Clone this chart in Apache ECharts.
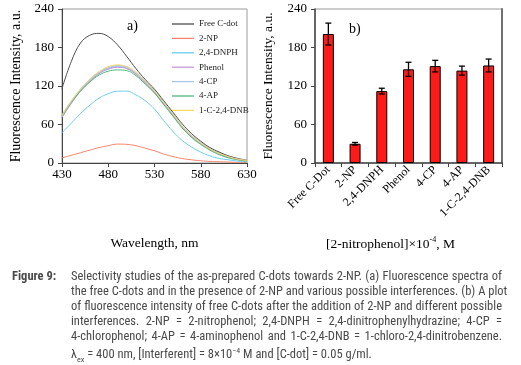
<!DOCTYPE html>
<html>
<head>
<meta charset="utf-8">
<script src="https://cdn.jsdelivr.net/npm/echarts@6/dist/echarts.min.js"></script>
<style>
  html, body { margin: 0; padding: 0; background: #fff; }
  #wrap { position: relative; width: 521px; height: 365px; overflow: hidden; }
  #chart { position: absolute; left: 0; top: 0; width: 521px; height: 365px; }
  #caption {
    position: absolute; left: 0; top: 268px; width: 521px;
    font-family: "Liberation Sans Narrow", "Roboto Condensed", "DejaVu Sans Condensed", sans-serif;
    font-size: 12.5px; line-height: 15px; color: #4a4a4a;
  }
  #caption .lab { position: absolute; left: 12px; top: 0; font-weight: bold; }
  #caption .body { position: absolute; left: 71px; width: 431px; top: 0; }
  #caption .ln { text-align: justify; text-align-last: justify; white-space: nowrap; }
  #caption .last { text-align: left; text-align-last: left; }
</style>
</head>
<body>
<div id="wrap">
  <div id="chart"></div>
  <div id="caption">
    <div class="lab">Figure 9:</div>
    <div class="body">
      <div class="ln">Selectivity studies of the as-prepared C-dots towards 2-NP. (a) Fluorescence spectra of</div>
      <div class="ln">the free C-dots and in the presence of 2-NP and various possible interferences. (b) A plot</div>
      <div class="ln">of fluorescence intensity of free C-dots after the addition of 2-NP and different possible</div>
      <div class="ln">interferences. 2-NP = 2-nitrophenol; 2,4-DNPH = 2,4-dinitrophenylhydrazine; 4-CP =</div>
      <div class="ln">4-chlorophenol; 4-AP = 4-aminophenol and 1-C-2,4-DNB = 1-chloro-2,4-dinitrobenzene.</div>
      <div class="ln last">&lambda;<sub style="font-size:8px">ex</sub> = 400 nm, [Interferent] = 8&times;10<sup style="font-size:8px">&minus;4</sup> M and [C-dot] = 0.05 g/ml.</div>
    </div>
  </div>
</div>
<script>
// (a) spectra, 430..630 nm every 10 nm
var wavelengths = [430, 440, 450, 460, 470, 480, 490, 500, 510, 520, 530, 540, 550, 560, 570, 580, 590, 600, 610, 620, 630];
var freeCdot = [116, 158, 187, 199, 202, 197, 184, 166, 147, 130, 115, 97, 79, 61, 46, 34, 24, 17, 11, 7, 4];
var np2 = [8, 12, 16, 20, 24, 27, 29.5, 29, 27, 23, 19, 14, 10, 7, 5, 3.5, 2.5, 2, 1.5, 1, 1];
var dnph = [47, 62, 77, 90, 101, 108, 112, 112, 106, 97, 84, 66, 49, 35, 25, 17, 11, 7, 5, 3, 2];
var phenol = [71, 93, 112, 127, 139, 146, 149, 147, 138, 125, 110, 92, 74, 55, 41, 30, 21, 14, 9, 6, 4];
var cp4 = [73, 95, 114, 129, 141, 148, 151, 149, 140, 126, 111, 93, 75, 56, 42, 31, 22, 15, 10, 6, 4];
var ap4 = [73, 94, 112, 126, 137, 143, 145, 144, 136, 123, 109, 91, 73, 55, 40, 29, 20, 13, 8, 5, 3];
var cdnb = [74, 96, 115, 130, 142, 150, 153, 150, 141, 127, 112, 94, 76, 57, 43, 31, 22, 15, 10, 6, 4];

// (b) intensity per sample, with error
var samples = ['Free C-Dot', '2-NP', '2,4-DNPH', 'Phenol', '4-CP', '4-AP', '1-C-2,4-DNB'];
var intensity = [201, 30, 112, 146, 151, 144, 152];
var errors = [17, 2, 4.5, 11, 9, 7, 10];

var yTicks = [0, 60, 120, 180, 240];

function pairs(ys) {
    return wavelengths.map(function (x, i) { return [x, ys[i]]; });
}

var lineDefs = [
    { name: 'Free C-dot', data: freeCdot, color: '#4d4d4d', width: 1 },
    { name: '2-NP', data: np2, color: '#f4846c', width: 1 },
    { name: '2,4-DNPH', data: dnph, color: '#6ccdf2', width: 1 },
    { name: 'Phenol', data: phenol, color: '#c49ad8', width: 1 },
    { name: '4-CP', data: cp4, color: '#aec4e6', width: 2.2 },
    { name: '4-AP', data: ap4, color: '#4dbb78', width: 1 },
    { name: '1-C-2,4-DNB', data: cdnb, color: '#ffd86a', width: 1 }
];

var serif = '"Liberation Serif", "DejaVu Serif", serif';

var lineSeries = lineDefs.map(function (d) {
    return {
        name: d.name,
        type: 'line',
        xAxisIndex: 0,
        yAxisIndex: 0,
        symbol: 'none',
        smooth: 0.4,
        data: pairs(d.data),
        lineStyle: { color: d.color, width: d.width },
        itemStyle: { color: d.color },
        z: d.name === '4-CP' ? 1 : 2
    };
});

var errData = intensity.map(function (v, i) { return [i, v + errors[i], v - errors[i]]; });

var chart = echarts.init(document.getElementById('chart'));
var option = {
    animation: false,
    textStyle: { fontFamily: serif },
    grid: [
        { left: 62, top: 9, width: 185, height: 154, show: true, borderColor: '#9a9a9a', borderWidth: 1 },
        { left: 315, top: 9, width: 187, height: 154, show: true, borderColor: '#9a9a9a', borderWidth: 1 }
    ],
    legend: {
        data: lineDefs.map(function (d) { return d.name; }),
        orient: 'vertical',
        left: 167,
        top: 14,
        icon: 'rect',
        itemWidth: 22,
        itemHeight: 1.3,
        itemGap: 4.4,
        textStyle: { fontFamily: serif, fontSize: 9, lineHeight: 10, color: '#222' }
    },
    xAxis: [
        {
            gridIndex: 0, type: 'value', min: 430, max: 630, interval: 50,
            name: 'Wavelength, nm', nameLocation: 'middle', nameGap: 73,
            nameTextStyle: { fontFamily: serif, fontSize: 13.5, color: '#000' },
            axisLine: { lineStyle: { color: '#444' } },
            axisTick: { show: true, length: 4, lineStyle: { color: '#444' } },
            axisLabel: { fontFamily: serif, fontSize: 13, color: '#000', margin: 5 },
            splitLine: { show: false }
        },
        {
            gridIndex: 1, type: 'category', data: samples,
            name: '[2-nitrophenol]\u00d710{sup|-4}, M', nameLocation: 'middle', nameGap: 73,
            nameTextStyle: {
                fontFamily: serif, fontSize: 13.5, color: '#000', padding: [0, 36, 0, 0],
                rich: { sup: { fontFamily: serif, fontSize: 8, verticalAlign: 'top', padding: [0, 0, 8, 0] } }
            },
            axisLine: { lineStyle: { color: '#444', width: 1.5 } },
            axisTick: { show: true, length: 4, lineStyle: { color: '#444' } },
            axisLabel: { fontFamily: serif, fontSize: 12, color: '#000', rotate: 45, margin: 5, interval: 0 }
        }
    ],
    yAxis: [
        {
            gridIndex: 0, type: 'value', min: yTicks[0], max: yTicks[yTicks.length - 1], interval: 60,
            name: 'Fluorescence Intensity, a.u.', nameLocation: 'middle', nameGap: 39,
            nameTextStyle: { fontFamily: serif, fontSize: 14, color: '#000' },
            axisLine: { show: true, lineStyle: { color: '#444' } },
            axisTick: { show: true, length: 4, lineStyle: { color: '#444' } },
            axisLabel: { fontFamily: serif, fontSize: 13, color: '#000', margin: 8 },
            splitLine: { show: false }
        },
        {
            gridIndex: 1, type: 'value', min: yTicks[0], max: yTicks[yTicks.length - 1], interval: 60,
            name: 'Fluorescence Intensity, a.u.', nameLocation: 'middle', nameGap: 40,
            nameTextStyle: { fontFamily: serif, fontSize: 13.5, color: '#000' },
            axisLine: { show: true, lineStyle: { color: '#444', width: 1.5 } },
            axisTick: { show: true, length: 4, lineStyle: { color: '#444' } },
            axisLabel: { fontFamily: serif, fontSize: 13, color: '#000', margin: 8 },
            splitLine: { show: false }
        },
        {
            gridIndex: 1, type: 'value', position: 'right', min: 0, max: 240, interval: 60,
            axisLine: { show: true, lineStyle: { color: '#707070', width: 2 } },
            axisTick: { show: false },
            axisLabel: { show: false },
            splitLine: { show: false }
        }
    ],
    graphic: [
        { type: 'text', left: 127, top: 19, style: { text: 'a)', font: '14px ' + serif, fill: '#000' } },
        { type: 'text', left: 349, top: 22, style: { text: 'b)', font: '14px ' + serif, fill: '#000' } }
    ],
    series: lineSeries.concat([
        {
            name: 'Intensity',
            type: 'bar',
            xAxisIndex: 1,
            yAxisIndex: 1,
            barWidth: 11,
            data: intensity,
            itemStyle: { color: '#ff1a1a', borderColor: '#000', borderWidth: 1 }
        },
        {
            name: 'Error',
            type: 'custom',
            xAxisIndex: 1,
            yAxisIndex: 1,
            data: errData,
            encode: { x: 0, y: [1, 2] },
            z: 5,
            renderItem: function (params, api) {
                var i = api.value(0);
                var hi = api.coord([i, api.value(1)]);
                var lo = api.coord([i, api.value(2)]);
                var cap = 3;
                var st = { stroke: '#000', lineWidth: 1.3 };
                return {
                    type: 'group',
                    children: [
                        { type: 'line', shape: { x1: hi[0], y1: hi[1], x2: lo[0], y2: lo[1] }, style: st },
                        { type: 'line', shape: { x1: hi[0] - cap, y1: hi[1], x2: hi[0] + cap, y2: hi[1] }, style: st },
                        { type: 'line', shape: { x1: lo[0] - cap, y1: lo[1], x2: lo[0] + cap, y2: lo[1] }, style: st }
                    ]
                };
            }
        }
    ])
};
chart.setOption(option);
</script>
</body>
</html>
